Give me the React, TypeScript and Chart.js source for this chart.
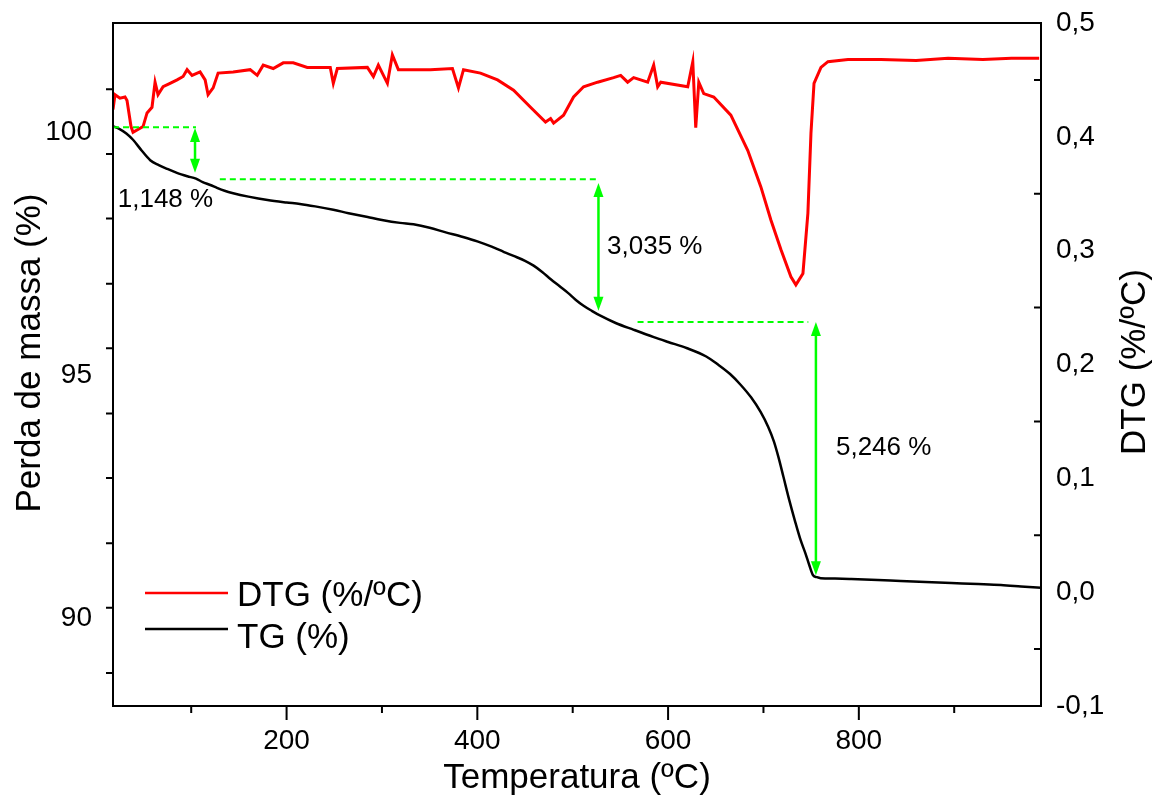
import React, { useEffect, useRef } from "react";
import { Chart, registerables } from "chart.js";

Chart.register(...registerables);

const FONT = "'Liberation Sans', Arial, Helvetica, sans-serif";

// TG curve (mass %, left axis)
const tgTemp = [18, 25, 32, 39, 48, 57, 66, 75, 85, 96, 105, 112, 120, 127, 135, 144, 160, 180, 200, 214, 230, 249, 265, 285, 300, 319, 333, 350, 366, 385, 400, 415, 428, 438, 450, 459, 468, 477, 486, 495, 503, 511, 520, 529, 545, 564, 585, 600, 620, 640, 652, 665, 676, 687, 697, 705, 711, 716, 721, 727, 733, 739, 744, 748, 752, 756, 760, 775, 792, 820, 844, 870, 897, 925, 949, 970, 991];
const tgMass = [100.12, 100.06, 99.97, 99.84, 99.62, 99.42, 99.32, 99.24, 99.16, 99.09, 99.04, 98.97, 98.91, 98.85, 98.79, 98.74, 98.67, 98.60, 98.55, 98.52, 98.47, 98.40, 98.33, 98.25, 98.19, 98.13, 98.10, 98.03, 97.94, 97.84, 97.75, 97.64, 97.53, 97.45, 97.35, 97.25, 97.12, 96.97, 96.83, 96.69, 96.55, 96.43, 96.32, 96.22, 96.07, 95.93, 95.78, 95.68, 95.55, 95.38, 95.22, 95.02, 94.80, 94.54, 94.24, 93.93, 93.63, 93.29, 92.90, 92.43, 92.00, 91.60, 91.33, 91.09, 90.88, 90.84, 90.82, 90.81, 90.80, 90.78, 90.76, 90.74, 90.72, 90.70, 90.68, 90.65, 90.62];

// DTG curve (%/ºC, right axis)
const dtgTemp = [18, 20.1, 25.3, 30.6, 32.7, 36.9, 39, 49.5, 53.7, 58.9, 62.1, 65.2, 70.5, 77.8, 85.2, 91.5, 95.7, 100.9, 109.3, 114.6, 117.7, 123, 128.2, 144, 161.8, 169.2, 175.5, 186, 196.5, 207, 221.7, 245.8, 249, 253.2, 284.7, 291, 296.2, 305.7, 310.9, 317.2, 350.8, 373.9, 380.2, 385.5, 403.3, 421.2, 438, 455.8, 471.5, 476.8, 480, 490.4, 500.9, 511.4, 526.1, 542.9, 550.3, 557.6, 563.9, 578.6, 584.9, 589.1, 592.3, 620.6, 625.9, 629, 632.2, 637.4, 647.9, 665.8, 683.6, 697.3, 707.8, 718.3, 728.8, 734, 741.4, 746.6, 749.8, 753, 760.3, 767.6, 788.6, 823.3, 860, 893.6, 930, 960, 989.1];
const dtgRate = [0.424, 0.437, 0.434, 0.435, 0.432, 0.409, 0.404, 0.409, 0.421, 0.426, 0.448, 0.437, 0.444, 0.447, 0.45, 0.453, 0.459, 0.454, 0.457, 0.45, 0.437, 0.443, 0.456, 0.457, 0.459, 0.454, 0.463, 0.46, 0.465, 0.465, 0.461, 0.461, 0.447, 0.46, 0.461, 0.453, 0.463, 0.447, 0.472, 0.459, 0.459, 0.46, 0.443, 0.459, 0.456, 0.45, 0.441, 0.426, 0.413, 0.416, 0.412, 0.419, 0.435, 0.444, 0.448, 0.452, 0.454, 0.448, 0.452, 0.448, 0.463, 0.444, 0.448, 0.444, 0.466, 0.408, 0.448, 0.438, 0.435, 0.419, 0.388, 0.356, 0.327, 0.301, 0.277, 0.27, 0.28, 0.333, 0.403, 0.447, 0.461, 0.466, 0.468, 0.468, 0.467, 0.469, 0.468, 0.469, 0.469];

// Axis ticks
const xTickLabels = [200, 400, 600, 800];
const xMinorTicks = [100, 300, 500, 700, 900];
const tgTickLabels = [90, 95, 100];
const tgMinorTicks = [100.88, 99.55, 98.22, 96.88, 95.55, 94.21, 92.88, 91.54, 90.21, 88.87];
const dtgTickLabels = [-0.1, 0, 0.1, 0.2, 0.3, 0.4, 0.5];
const dtgMinorTicks = [0.45, 0.35, 0.25, 0.15, 0.05, -0.05];

// Mass-loss annotations (in data units: temperature / mass %)
const guideMass = [100.1, 99.03, 96.09];
const guideFrom = [18, 130, 568];
const guideTo = [105, 526, 747];
const arrowTemp = [104, 527, 755];
const arrowTopMass = [100.08, 98.95, 96.09];
const arrowBottomMass = [99.16, 96.32, 90.88];
const lossLabels = ["1,148 %", "3,035 %", "5,246 %"];
const lossLabelTemp = [23, 536, 776];
const lossLabelMass = [98.6, 97.63, 93.5];

const seriesNames = ["DTG (%/ºC)", "TG (%)"];
const seriesColors = ["#ff0000", "#000000"];

const GREEN = "#00ff00";

function arrowHead(ctx: CanvasRenderingContext2D, x: number, y: number, dir: number) {
  const len = 14;
  const hw = 5;
  ctx.beginPath();
  ctx.moveTo(x, y);
  ctx.lineTo(x - hw, y - dir * len);
  ctx.lineTo(x + hw, y - dir * len);
  ctx.closePath();
  ctx.fill();
}

const decorPlugin = {
  id: "decor",
  afterDatasetsDraw(chart: any) {
    const { ctx, chartArea: a, scales } = chart;
    const sx = scales.x;
    const sl = scales.yTG;
    const sr = scales.yDTG;
    ctx.save();

    // annotations
    ctx.strokeStyle = GREEN;
    ctx.fillStyle = GREEN;
    ctx.lineWidth = 2;
    ctx.setLineDash([6, 4]);
    for (let i = 0; i < guideMass.length; i++) {
      const y = sl.getPixelForValue(guideMass[i]);
      ctx.beginPath();
      ctx.moveTo(sx.getPixelForValue(guideFrom[i]), y);
      ctx.lineTo(sx.getPixelForValue(guideTo[i]), y);
      ctx.stroke();
    }
    ctx.setLineDash([]);
    ctx.lineWidth = 2.5;
    for (let i = 0; i < arrowTemp.length; i++) {
      const x = sx.getPixelForValue(arrowTemp[i]);
      const y1 = sl.getPixelForValue(arrowTopMass[i]);
      const y2 = sl.getPixelForValue(arrowBottomMass[i]);
      ctx.beginPath();
      ctx.moveTo(x, y1 + 8);
      ctx.lineTo(x, y2 - 8);
      ctx.stroke();
      arrowHead(ctx, x, y1, -1);
      arrowHead(ctx, x, y2, 1);
    }
    ctx.fillStyle = "#000";
    ctx.font = `26px ${FONT}`;
    ctx.textAlign = "left";
    ctx.textBaseline = "middle";
    for (let i = 0; i < lossLabels.length; i++) {
      ctx.fillText(lossLabels[i], sx.getPixelForValue(lossLabelTemp[i]), sl.getPixelForValue(lossLabelMass[i]));
    }

    // frame
    ctx.strokeStyle = "#000";
    ctx.lineWidth = 2;
    ctx.strokeRect(a.left, a.top, a.right - a.left, a.bottom - a.top);

    // tick marks
    ctx.beginPath();
    for (const v of xTickLabels) {
      const x = sx.getPixelForValue(v);
      ctx.moveTo(x, a.bottom);
      ctx.lineTo(x, a.bottom + 14);
    }
    for (const v of xMinorTicks) {
      const x = sx.getPixelForValue(v);
      ctx.moveTo(x, a.bottom);
      ctx.lineTo(x, a.bottom + 7);
    }
    for (const v of tgMinorTicks) {
      const y = sl.getPixelForValue(v);
      ctx.moveTo(a.left - 7, y);
      ctx.lineTo(a.left, y);
    }
    for (const v of dtgMinorTicks) {
      const y = sr.getPixelForValue(v);
      ctx.moveTo(a.right - 7, y);
      ctx.lineTo(a.right, y);
    }
    ctx.stroke();

    // legend
    const legendY = [a.top + 570, a.top + 606];
    const legendTextY = [a.top + 573, a.top + 615];
    ctx.font = `35px ${FONT}`;
    ctx.textAlign = "left";
    ctx.textBaseline = "middle";
    for (let i = 0; i < seriesNames.length; i++) {
      ctx.strokeStyle = seriesColors[i];
      ctx.lineWidth = 2.5;
      ctx.beginPath();
      ctx.moveTo(a.left + 32, legendY[i]);
      ctx.lineTo(a.left + 115, legendY[i]);
      ctx.stroke();
      ctx.fillStyle = "#000";
      ctx.fillText(seriesNames[i], a.left + 124, legendTextY[i]);
    }

    // y axis titles
    ctx.fillStyle = "#000";
    ctx.font = `35px ${FONT}`;
    ctx.textAlign = "center";
    ctx.textBaseline = "middle";
    ctx.save();
    ctx.translate(30, 353);
    ctx.rotate(-Math.PI / 2);
    ctx.fillText("Perda de massa (%)", 0, 0);
    ctx.restore();
    ctx.save();
    ctx.translate(1135, 362);
    ctx.rotate(-Math.PI / 2);
    ctx.fillText("DTG (%/ºC)", 0, 0);
    ctx.restore();

    ctx.restore();
  },
};

const noEdgePadding = (s: any) => {
  s.paddingTop = 0;
  s.paddingBottom = 0;
  s.paddingLeft = 0;
  s.paddingRight = 0;
};

export default function App() {
  const ref = useRef<HTMLCanvasElement | null>(null);
  useEffect(() => {
    const canvas = ref.current;
    if (!canvas) return;
    const chart = new Chart(canvas, {
      type: "line",
      data: {
        datasets: [
          {
            label: seriesNames[0],
            data: dtgTemp.map((t, i) => ({ x: t, y: dtgRate[i] })),
            yAxisID: "yDTG",
            borderColor: seriesColors[0],
            borderWidth: 3,
            pointRadius: 0,
            tension: 0,
          },
          {
            label: seriesNames[1],
            data: tgTemp.map((t, i) => ({ x: t, y: tgMass[i] })),
            yAxisID: "yTG",
            borderColor: seriesColors[1],
            borderWidth: 2.5,
            pointRadius: 0,
            cubicInterpolationMode: "monotone",
          },
        ],
      },
      options: {
        animation: false,
        responsive: false,
        events: [],
        layout: { padding: { top: 23, left: 0, right: 0, bottom: 0 } },
        plugins: { legend: { display: false }, tooltip: { enabled: false } },
        scales: {
          x: {
            type: "linear",
            position: "bottom",
            min: 18,
            max: 991,
            afterFit: (s: any) => {
              s.height = 99;
              noEdgePadding(s);
            },
            afterBuildTicks: (s: any) => {
              s.ticks = xTickLabels.map((v) => ({ value: v }));
            },
            grid: { display: false },
            border: { display: false },
            ticks: {
              font: { family: FONT, size: 28 },
              color: "#000",
              padding: 10,
              maxRotation: 0,
              autoSkip: false,
              callback: (v: any) => String(v),
            },
            title: {
              display: true,
              text: "Temperatura (ºC)",
              font: { family: FONT, size: 35 },
              color: "#000",
              padding: { top: 0, bottom: 6 },
            },
          },
          yTG: {
            type: "linear",
            position: "left",
            min: 88.189,
            max: 102.243,
            afterFit: (s: any) => {
              s.width = 113;
              noEdgePadding(s);
            },
            afterBuildTicks: (s: any) => {
              s.ticks = tgTickLabels.map((v) => ({ value: v }));
            },
            grid: { display: false },
            border: { display: false },
            ticks: {
              font: { family: FONT, size: 28 },
              color: "#000",
              padding: 13,
              callback: (v: any) => String(v),
            },
          },
          yDTG: {
            type: "linear",
            position: "right",
            min: -0.1,
            max: 0.5,
            afterFit: (s: any) => {
              s.width = 122;
              noEdgePadding(s);
            },
            afterBuildTicks: (s: any) => {
              s.ticks = dtgTickLabels.map((v) => ({ value: v }));
            },
            grid: { display: false },
            border: { display: false },
            ticks: {
              font: { family: FONT, size: 28 },
              color: "#000",
              padding: 7,
              callback: (v: any) => Number(v).toFixed(1).replace(".", ","),
            },
          },
        },
      },
      plugins: [decorPlugin],
    } as any);
    return () => chart.destroy();
  }, []);
  return (
    <div style={{ position: "fixed", left: 0, top: 0, width: 1163, height: 805, background: "#fff" }}>
      <canvas ref={ref} width={1163} height={805} style={{ display: "block" }} />
    </div>
  );
}
